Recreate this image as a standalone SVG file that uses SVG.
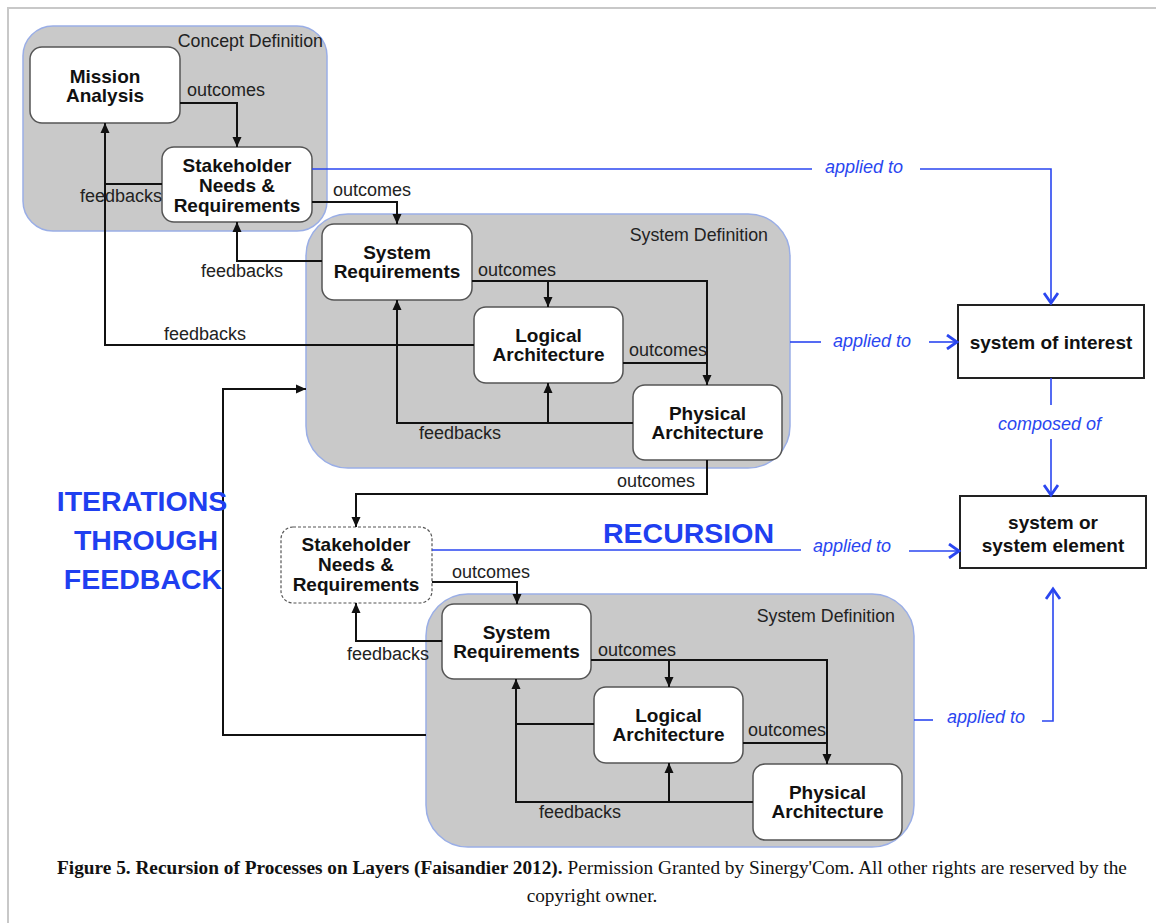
<svg xmlns="http://www.w3.org/2000/svg" width="1156" height="923" viewBox="0 0 1156 923">
<style>
.frame{stroke:#c8c8c8;stroke-width:2;fill:none}
.cont{fill:#c9c9c9;stroke:#9aaee6;stroke-width:1.5}
.node{fill:#fff;stroke:#555;stroke-width:1.5}
.dash{fill:#fff;stroke:#555;stroke-width:1.2;stroke-dasharray:3 2}
.box{fill:#fff;stroke:#222;stroke-width:2}
.nt{font-family:"Liberation Sans",Arial,sans-serif;font-weight:bold;font-size:19px;fill:#111;text-anchor:middle}
.lbl{font-family:"Liberation Sans",Arial,sans-serif;font-size:18px;fill:#222}
.ct{font-family:"Liberation Sans",Arial,sans-serif;font-size:17.8px;fill:#222}
.bl{font-family:"Liberation Sans",Arial,sans-serif;font-style:italic;font-size:18px;fill:#2a46f0}
.big{font-family:"Liberation Sans",Arial,sans-serif;font-weight:bold;font-size:28.5px;fill:#1f3ff0}
.k{fill:none;stroke:#111;stroke-width:2}
.b{fill:none;stroke:#2a46f0;stroke-width:1.6}
.cap{font-family:"Liberation Serif","Times New Roman",serif;font-size:19.3px;fill:#111;text-anchor:middle}
</style>
<defs>
<marker id="ak" markerUnits="userSpaceOnUse" markerWidth="10" markerHeight="10" refX="10" refY="5" orient="auto">
<path d="M0,0.5 L10,5 L0,9.5 z" fill="#111"/>
</marker>
<marker id="ab" markerUnits="userSpaceOnUse" markerWidth="14" markerHeight="16" refX="11" refY="8" orient="auto">
<path d="M1,1 L11,8 L1,15" fill="none" stroke="#2a46f0" stroke-width="2.8"/>
</marker>
</defs>
<rect width="1156" height="923" fill="#fff"/>
<path class="frame" d="M8,923 V8 H1156"/>

<g id="concept-definition">
<rect class="cont" x="23" y="26" width="304" height="205" rx="30"/>
<text class="ct" x="323" y="47" text-anchor="end">Concept Definition</text>
</g>
<g id="system-definition-1">
<rect class="cont" x="306" y="214" width="484" height="254" rx="42"/>
<text class="ct" x="768" y="241" text-anchor="end">System Definition</text>
</g>
<g id="system-definition-2">
<rect class="cont" x="426" y="594" width="488" height="253" rx="42"/>
<text class="ct" x="895" y="622" text-anchor="end">System Definition</text>
</g>

<g id="mission-analysis">
<rect class="node" x="30" y="47" width="150" height="76" rx="12"/>
<text class="nt" x="105" y="83">Mission</text>
<text class="nt" x="105" y="102">Analysis</text>
</g>
<g id="stakeholder-1">
<rect class="node" x="162" y="147" width="150" height="75" rx="12"/>
<text class="nt" x="237" y="172">Stakeholder</text>
<text class="nt" x="237" y="192">Needs &amp;</text>
<text class="nt" x="237" y="212">Requirements</text>
</g>
<g id="system-requirements-1">
<rect class="node" x="322" y="224" width="150" height="76" rx="12"/>
<text class="nt" x="397" y="259">System</text>
<text class="nt" x="397" y="278">Requirements</text>
</g>
<g id="logical-architecture-1">
<rect class="node" x="474" y="307" width="149" height="76" rx="12"/>
<text class="nt" x="548.5" y="342">Logical</text>
<text class="nt" x="548.5" y="361">Architecture</text>
</g>
<g id="physical-architecture-1">
<rect class="node" x="633" y="385" width="149" height="75" rx="12"/>
<text class="nt" x="707.5" y="420">Physical</text>
<text class="nt" x="707.5" y="439">Architecture</text>
</g>
<g id="stakeholder-2">
<rect class="dash" x="281" y="527" width="151" height="76" rx="12"/>
<text class="nt" x="356" y="551">Stakeholder</text>
<text class="nt" x="356" y="571">Needs &amp;</text>
<text class="nt" x="356" y="591">Requirements</text>
</g>
<g id="system-requirements-2">
<rect class="node" x="442" y="604" width="149" height="75" rx="12"/>
<text class="nt" x="516.5" y="639">System</text>
<text class="nt" x="516.5" y="658">Requirements</text>
</g>
<g id="logical-architecture-2">
<rect class="node" x="594" y="687" width="149" height="76" rx="12"/>
<text class="nt" x="668.5" y="722">Logical</text>
<text class="nt" x="668.5" y="741">Architecture</text>
</g>
<g id="physical-architecture-2">
<rect class="node" x="753" y="764" width="149" height="76" rx="12"/>
<text class="nt" x="827.5" y="799">Physical</text>
<text class="nt" x="827.5" y="818">Architecture</text>
</g>
<g id="system-of-interest">
<rect class="box" x="958" y="305" width="186" height="73"/>
<text class="nt" x="1051" y="349">system of interest</text>
</g>
<g id="system-element">
<rect class="box" x="960" y="496" width="186" height="72"/>
<text class="nt" x="1053" y="529">system or</text>
<text class="nt" x="1053" y="552">system element</text>
</g>

<g id="connectors">
<path class="k" d="M180,103 H237 V147" marker-end="url(#ak)"/>
<path class="k" d="M162,184 H105"/>
<path class="k" d="M474,345 H105 V123" marker-end="url(#ak)"/>
<path class="k" d="M312,202 H397 V224" marker-end="url(#ak)"/>
<path class="k" d="M322,261 H237 V222" marker-end="url(#ak)"/>
<path class="k" d="M472,281 H707 V385" marker-end="url(#ak)"/>
<path class="k" d="M548,281 V307" marker-end="url(#ak)"/>
<path class="k" d="M623,363 H707"/>
<path class="k" d="M633,423 H397 V300" marker-end="url(#ak)"/>
<path class="k" d="M548,423 V383" marker-end="url(#ak)"/>
<path class="k" d="M707,460 V494 H356 V527" marker-end="url(#ak)"/>
<path class="k" d="M426,735 H223 V389 H306" marker-end="url(#ak)"/>
<path class="k" d="M432,582 H517 V604" marker-end="url(#ak)"/>
<path class="k" d="M442,641 H356 V603" marker-end="url(#ak)"/>
<path class="k" d="M591,660 H827 V764" marker-end="url(#ak)"/>
<path class="k" d="M669,660 V687" marker-end="url(#ak)"/>
<path class="k" d="M743,743 H827"/>
<path class="k" d="M753,802 H516 V679" marker-end="url(#ak)"/>
<path class="k" d="M669,802 V763" marker-end="url(#ak)"/>
<path class="k" d="M594,724 H516"/>

<path class="b" d="M312,169 H812"/>
<path class="b" d="M920,169 H1051 V303" marker-end="url(#ab)"/>
<path class="b" d="M790,342 H821"/>
<path class="b" d="M929,342 H957" marker-end="url(#ab)"/>
<path class="b" d="M1051,378 V405"/>
<path class="b" d="M1051,439 V495" marker-end="url(#ab)"/>
<path class="b" d="M432,550 H801"/>
<path class="b" d="M909,551 H959" marker-end="url(#ab)"/>
<path class="b" d="M914,720 H933"/>
<path class="b" d="M1042,721 H1053 V589" marker-end="url(#ab)"/>

<text class="lbl" x="187" y="96">outcomes</text>
<text class="lbl" x="80" y="202">feedbacks</text>
<text class="lbl" x="333" y="196">outcomes</text>
<text class="lbl" x="201" y="277">feedbacks</text>
<text class="lbl" x="164" y="340">feedbacks</text>
<text class="lbl" x="478" y="276">outcomes</text>
<text class="lbl" x="629" y="356">outcomes</text>
<text class="lbl" x="419" y="439">feedbacks</text>
<text class="lbl" x="617" y="487">outcomes</text>
<text class="lbl" x="452" y="578">outcomes</text>
<text class="lbl" x="347" y="660">feedbacks</text>
<text class="lbl" x="598" y="656">outcomes</text>
<text class="lbl" x="748" y="736">outcomes</text>
<text class="lbl" x="539" y="818">feedbacks</text>

<text class="bl" x="825" y="173">applied to</text>
<text class="bl" x="833" y="347">applied to</text>
<text class="bl" x="998" y="430">composed of</text>
<text class="bl" x="813" y="552">applied to</text>
<text class="bl" x="947" y="723">applied to</text>
</g>

<g id="annotations">
<text class="big" x="603" y="543">RECURSION</text>
<text class="big" x="142" y="511" text-anchor="middle">ITERATIONS</text>
<text class="big" x="146" y="550" text-anchor="middle">THROUGH</text>
<text class="big" x="143" y="589" text-anchor="middle">FEEDBACK</text>
</g>

<g id="caption">
<text class="cap" x="592" y="874"><tspan font-weight="bold">Figure 5. Recursion of Processes on Layers (Faisandier 2012).</tspan> Permission Granted by Sinergy'Com. All other rights are reserved by the</text>
<text class="cap" x="592" y="902">copyright owner.</text>
</g>
</svg>
